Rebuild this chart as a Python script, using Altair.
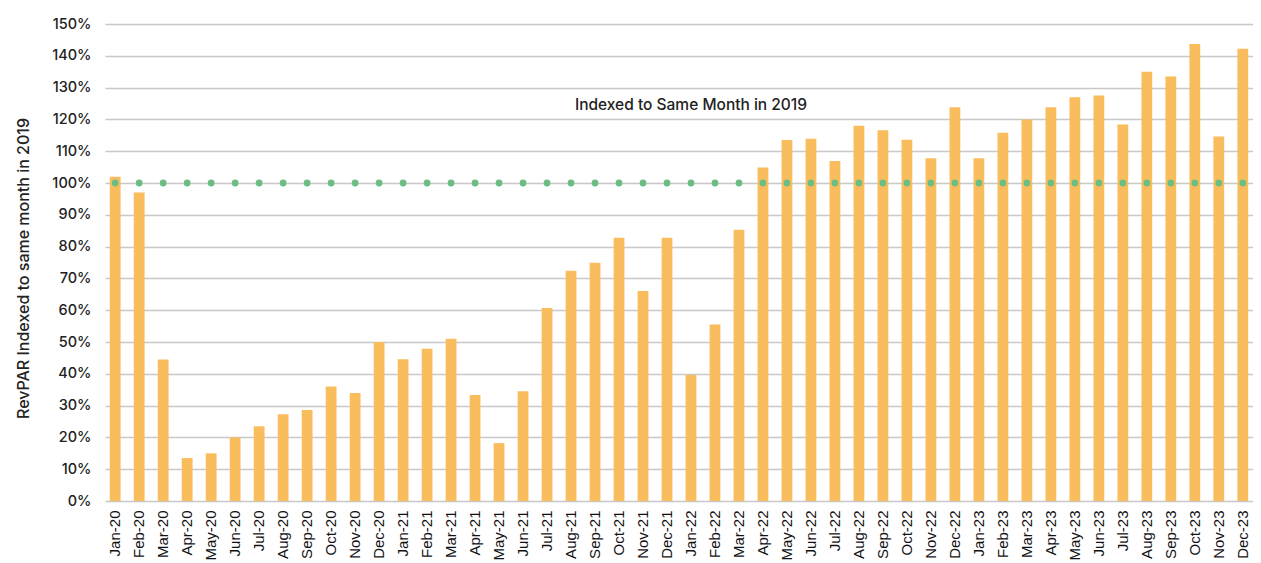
import altair as alt
import pandas as pd

months = [
    "Jan-20", "Feb-20", "Mar-20", "Apr-20", "May-20", "Jun-20", "Jul-20", "Aug-20", "Sep-20", "Oct-20", "Nov-20", "Dec-20",
    "Jan-21", "Feb-21", "Mar-21", "Apr-21", "May-21", "Jun-21", "Jul-21", "Aug-21", "Sep-21", "Oct-21", "Nov-21", "Dec-21",
    "Jan-22", "Feb-22", "Mar-22", "Apr-22", "May-22", "Jun-22", "Jul-22", "Aug-22", "Sep-22", "Oct-22", "Nov-22", "Dec-22",
    "Jan-23", "Feb-23", "Mar-23", "Apr-23", "May-23", "Jun-23", "Jul-23", "Aug-23", "Sep-23", "Oct-23", "Nov-23", "Dec-23",
]

revpar_index = [
    102, 97, 44.5, 13.5, 15, 20, 23.5, 27.3, 28.6, 36, 34, 50,
    44.6, 47.9, 51, 33.3, 18.2, 34.5, 60.7, 72.4, 74.9, 82.8, 66, 82.8,
    39.6, 55.5, 85.3, 104.9, 113.5, 113.9, 106.9, 118, 116.6, 113.6, 107.8, 123.8,
    107.8, 115.8, 120, 123.8, 127, 127.5, 118.4, 135, 133.5, 143.7, 114.6, 142.2,
]

index_2019 = [
    100, 100, 100, 100, 100, 100, 100, 100, 100, 100, 100, 100,
    100, 100, 100, 100, 100, 100, 100, 100, 100, 100, 100, 100,
    100, 100, 100, 100, 100, 100, 100, 100, 100, 100, 100, 100,
    100, 100, 100, 100, 100, 100, 100, 100, 100, 100, 100, 100,
]

y_ticks = [0, 10, 20, 30, 40, 50, 60, 70, 80, 90, 100, 110, 120, 130, 140, 150]

note_text = ["Indexed to Same Month in 2019"]
note_month = ["Jan-22"]
note_value = [124.5]

# long format so every layer shares one x field and one y field
rows = []
for m, v, b in zip(months, revpar_index, index_2019):
    rows.append({"month": m, "value": v, "kind": "bar", "text": ""})
    rows.append({"month": m, "value": b, "kind": "dot", "text": ""})
for m, v, t in zip(note_month, note_value, note_text):
    rows.append({"month": m, "value": v, "kind": "note", "text": t})
df = pd.DataFrame(rows)

x_axis = alt.Axis(
    title=None,
    labelAngle=-90,
    labelAlign="right",
    labelBaseline="middle",
    labelPadding=9,
    labelOverlap=False,
    ticks=False,
    domain=False,
    grid=False,
    labelFont="Liberation Sans",
    labelFontSize=15,
    labelColor="#111111",
)
x_scale = alt.Scale(paddingInner=0.55, paddingOuter=0.2)

y_scale = alt.Scale(domain=[0, 150], nice=False)
y_axis = alt.Axis(
    title="RevPAR Indexed to same month in 2019",
    values=y_ticks,
    labelExpr="datum.value + '%'",
    labelOverlap=False,
    labelFont="Inter",
    labelFontSize=14.5,
    labelFontWeight=500,
    labelColor="#222222",
    labelPadding=14,
    ticks=False,
    domain=False,
    grid=True,
    gridColor="#c8c8c8",
    gridWidth=1.3,
    titleFont="Inter",
    titleFontSize=16,
    titleFontWeight=500,
    titleColor="#222222",
    titleX=-82,
    titleY=244,
    titleBaseline="middle",
)

X = alt.X("month:N", sort=months, scale=x_scale, axis=x_axis)
Y = alt.Y("value:Q", scale=y_scale, axis=y_axis)

base = alt.Chart(df).encode(x=X, y=Y)

bars = base.transform_filter(alt.datum.kind == "bar").mark_bar(color="#FABD5E")

dots = base.transform_filter(alt.datum.kind == "dot").mark_circle(
    color="#6CBD83", size=46, opacity=1
)

label = base.transform_filter(alt.datum.kind == "note").mark_text(
    font="Inter", fontSize=15.5, fontWeight=500, color="#222222", align="center", baseline="middle"
).encode(text="text:N")

chart = (
    alt.layer(bars, dots, label)
    .properties(
        width=1148,
        height=477,
        autosize=alt.AutoSizeParams(type="none"),
        padding={"left": 97, "top": 16, "right": 0, "bottom": 62},
        background="white",
    )
    .configure_view(stroke=None)
)

chart.save("out.html", embed_options={"renderer": "svg", "actions": False})
